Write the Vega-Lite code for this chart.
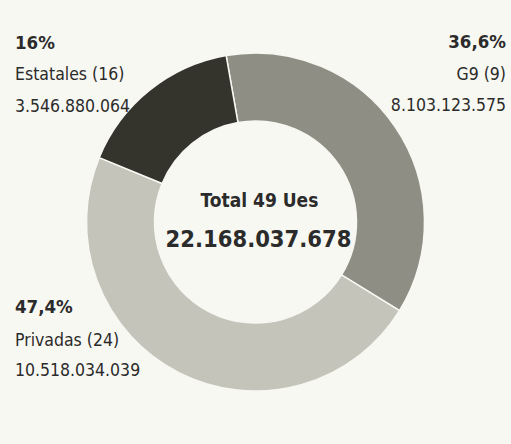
{
  "$schema": "https://vega.github.io/schema/vega-lite/v6.json",
  "width": 511,
  "height": 444,
  "autosize": {"type": "none"},
  "padding": 0,
  "background": "#f8f8f2",
  "config": {
    "view": {"stroke": null},
    "locale": {"number": {"decimal": ",", "thousands": ".", "grouping": [3], "currency": ["", " €"]}},
    "text": {"font": "DejaVu Sans Condensed, DejaVu Sans, sans-serif", "fontSize": 17.5, "color": "#2b2b2b"}
  },
  "data": {"values": [
    {"grupo": "G9", "etiqueta": "G9 (9)", "ues": 9, "valor": 8103123575, "pct": 0.366, "orden": 1},
    {"grupo": "Privadas", "etiqueta": "Privadas (24)", "ues": 24, "valor": 10518034039, "pct": 0.474, "orden": 2},
    {"grupo": "Estatales", "etiqueta": "Estatales (16)", "ues": 16, "valor": 3546880064, "pct": 0.16, "orden": 3}
  ]},
  "layer": [
    {
      "encoding": {
        "theta": {"field": "valor", "type": "quantitative", "stack": true, "scale": {"range": [-0.1745, 6.1087]}},
        "order": {"field": "orden", "type": "quantitative"}
      },
      "layer": [
        {"mark": {"type": "arc", "outerRadius": 169, "innerRadius": 101, "stroke": "#f8f8f2", "strokeWidth": 1.5},
         "encoding": {"color": {"field": "grupo", "type": "nominal", "scale": {"domain": ["G9", "Privadas", "Estatales"], "range": ["#8e8e84", "#c4c4bb", "#34332c"]}, "legend": null}}},
        {"mark": {"type": "text", "radius": 230, "align": "left", "baseline": "alphabetic", "dx": -96.4, "dy": 6.2, "fontWeight": "bold", "fontSize": 18.5},
         "encoding": {"text": {"condition": {"test": "datum.grupo === 'Estatales'", "field": "pct", "type": "quantitative", "format": ".1~%"}, "value": ""}}},
        {"mark": {"type": "text", "radius": 230, "align": "left", "baseline": "alphabetic", "dx": -96.4, "dy": 37.2},
         "encoding": {"text": {"condition": {"test": "datum.grupo === 'Estatales'", "field": "etiqueta", "type": "nominal"}, "value": ""}}},
        {"mark": {"type": "text", "radius": 230, "align": "left", "baseline": "alphabetic", "dx": -96.4, "dy": 69.7},
         "encoding": {"text": {"condition": {"test": "datum.grupo === 'Estatales'", "field": "valor", "type": "quantitative", "format": ",d"}, "value": ""}}},
        {"mark": {"type": "text", "radius": 230, "align": "right", "baseline": "alphabetic", "dx": 60.3, "dy": -44.7, "fontWeight": "bold", "fontSize": 18.5},
         "encoding": {"text": {"condition": {"test": "datum.grupo === 'G9'", "field": "pct", "type": "quantitative", "format": ".1~%"}, "value": ""}}},
        {"mark": {"type": "text", "radius": 230, "align": "right", "baseline": "alphabetic", "dx": 60.3, "dy": -12.7},
         "encoding": {"text": {"condition": {"test": "datum.grupo === 'G9'", "field": "etiqueta", "type": "nominal"}, "value": ""}}},
        {"mark": {"type": "text", "radius": 230, "align": "right", "baseline": "alphabetic", "dx": 60.3, "dy": 18.3},
         "encoding": {"text": {"condition": {"test": "datum.grupo === 'G9'", "field": "valor", "type": "quantitative", "format": ",d"}, "value": ""}}},
        {"mark": {"type": "text", "radius": 230, "align": "left", "baseline": "alphabetic", "dx": -136.1, "dy": -113.9, "fontWeight": "bold", "fontSize": 18.5},
         "encoding": {"text": {"condition": {"test": "datum.grupo === 'Privadas'", "field": "pct", "type": "quantitative", "format": ".1~%"}, "value": ""}}},
        {"mark": {"type": "text", "radius": 230, "align": "left", "baseline": "alphabetic", "dx": -136.1, "dy": -80.9},
         "encoding": {"text": {"condition": {"test": "datum.grupo === 'Privadas'", "field": "etiqueta", "type": "nominal"}, "value": ""}}},
        {"mark": {"type": "text", "radius": 230, "align": "left", "baseline": "alphabetic", "dx": -136.1, "dy": -50.9},
         "encoding": {"text": {"condition": {"test": "datum.grupo === 'Privadas'", "field": "valor", "type": "quantitative", "format": ",d"}, "value": ""}}}
      ]
    },
    {
      "data": {"values": [{"titulo": "Total 49 Ues"}]},
      "mark": {"type": "text", "align": "center", "baseline": "alphabetic", "dx": 4, "dy": -15, "fontWeight": "bold", "fontSize": 19},
      "encoding": {"text": {"field": "titulo", "type": "nominal"}}
    },
    {
      "mark": {"type": "text", "align": "center", "baseline": "alphabetic", "dx": 3, "dy": 25, "fontWeight": "bold", "fontSize": 23.5},
      "encoding": {"text": {"aggregate": "sum", "field": "valor", "type": "quantitative", "format": ",d"}}
    }
  ]
}
